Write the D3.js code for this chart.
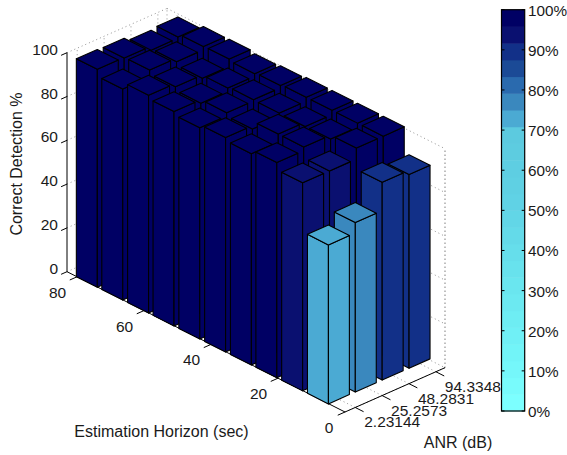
<!DOCTYPE html>
<html>

<head>
  <meta charset="utf-8">
  <title>Correct Detection</title>
  <style>
  html, body { margin: 0; padding: 0; background: #fff; }
  svg { display: block; }
  text { font-family: "Liberation Sans", Arial, sans-serif; font-size: 15.5px; fill: #1a1a1a; }
  .title { font-size: 16px; }
  .cbar { font-size: 15.3px; }
  </style>
</head>

<body>
  <svg width="567" height="455"></svg>
  <script src="https://d3js.org/d3.v7.min.js"></script>
  <script>
    // bar rows, front to back
    var horizon = [8, 15.7, 23.4, 31, 38.7, 46.4, 54.1, 61.7, 69.4, 77];
    var anrLabels = ["2.23144", "25.2573", "48.2831", "94.3348"];
    var anr1 = [72.6, 95, 98.3, 96.5, 97.9, 96.4, 97.9, 99.5, 96.4, 99.5];
    var anr2 = [77.4, 95, 100, 100, 96.4, 97.9, 96.3, 97.9, 99.6, 99.2];
    var anr3 = [90.3, 100, 98.2, 98, 98.2, 98.4, 97.8, 96.4, 98, 97.4];
    var anr4 = [88.4, 100, 100, 100, 100, 99.4, 98.9, 99.7, 99.5, 98];
    var series = [anr1, anr2, anr3, anr4];

    var horizonTicks = [0, 20, 40, 60, 80];
    var zTicks = [0, 20, 40, 60, 80, 100];
    var barTicks = [0, 10, 20, 30, 40, 50, 60, 70, 80, 90, 100];
    var bands = ["#7cffff", "#78fbfc", "#75f7fa", "#72f4f8", "#70f0f6", "#6eedf3", "#6ce9f1", "#6ae6ef",
      "#68e2ed", "#66deeb", "#64dae9", "#62d6e7", "#60d2e5", "#5fd0e3", "#5ecee2", "#5dcce0",
      "#5ccadf", "#4baad3", "#3a88be", "#2a6aae", "#1b4a96", "#123088", "#0a1070", "#000064"];

    var svg = d3.select("svg");
    var color = d3.scaleQuantize().domain([0, 100]).range(bands);

    // skewed 3d box, each data axis adds its own screen offset
    var hMax = 83, iMin = -0.38, iMax = 3.34;
    var hX = d3.scaleLinear().domain([0, hMax]).range([345, 67]);
    var hY = d3.scaleLinear().domain([0, hMax]).range([412, 271.7]);
    var iX = d3.scaleLinear().domain([iMin, iMax]).range([0, 100]);
    var iY = d3.scaleLinear().domain([iMin, iMax]).range([0, -44.3]);
    var zY = d3.scaleLinear().domain([0, 100]).range([0, -219]);

    function px(h, i) { return hX(h) + iX(i); }
    function py(h, i, z) { return hY(h) + iY(i) + zY(z); }
    function pt(h, i, z) { return [px(h, i), py(h, i, z)]; }

    var line = d3.line();

    function seg(a, b, cls) {
      return svg.append("path").attr("class", cls).attr("d", line([a, b]))
        .attr("fill", "none");
    }

    // dotted grid on the floor and the two back walls
    var grid = [];
    zTicks.forEach(z => {
      grid.push([pt(hMax, iMin, z), pt(hMax, iMax, z)]);
      grid.push([pt(hMax, iMax, z), pt(0, iMax, z)]);
    });
    horizonTicks.forEach(h => {
      grid.push([pt(h, iMin, 0), pt(h, iMax, 0)]);
      grid.push([pt(h, iMax, 0), pt(h, iMax, 100)]);
    });
    d3.range(4).forEach(i => {
      grid.push([pt(0, i, 0), pt(hMax, i, 0)]);
      grid.push([pt(hMax, i, 0), pt(hMax, i, 100)]);
    });
    grid.push([pt(hMax, iMax, 0), pt(hMax, iMax, 100)]);
    grid.push([pt(0, iMax, 0), pt(0, iMax, 100)]);
    grid.forEach(g => {
      seg(g[0], g[1], "grid").attr("stroke", "#777").attr("stroke-width", 0.8)
        .attr("stroke-dasharray", "1 3");
    });

    // axis lines and ticks, under the bars
    function axisLine(a, b) {
      seg(a, b, "axis").attr("stroke", "#000").attr("stroke-width", 1);
    }
    axisLine(pt(hMax, iMin, 0), pt(hMax, iMin, 100));
    axisLine(pt(0, iMin, 0), pt(hMax, iMin, 0));
    axisLine(pt(0, iMin, 0), pt(0, iMax, 0));
    zTicks.forEach(z => {
      axisLine(pt(hMax, iMin, z), pt(hMax, iMin - 0.22, z));
      svg.append("text").attr("x", 58).attr("y", py(hMax, iMin, z) + 2)
        .attr("text-anchor", "end").text(z);
    });
    horizonTicks.forEach(h => {
      axisLine(pt(h, iMin, 0), pt(h, iMin - 0.27, 0));
      svg.append("text").attr("x", px(h, iMin) - (h === 0 ? 16 : 19.5)).attr("y", py(h, iMin, 0) + 21)
        .attr("text-anchor", "middle").text(h);
    });
    anrLabels.forEach((label, i) => {
      axisLine(pt(0, i, 0), pt(-2.5, i, 0));
      svg.append("text").attr("x", px(0, i) + 9).attr("y", py(0, i, 0) + 20).text(label);
    });

    // bars, painted from the far corner forward
    var halfH = 3.13, halfI = 0.39;
    d3.range(horizon.length - 1, -1, -1).forEach(r => {
      d3.range(series.length - 1, -1, -1).forEach(c => {
        var z = series[c][r], h0 = horizon[r] - halfH, h1 = horizon[r] + halfH,
          i0 = c - halfI, i1 = c + halfI;
        var faces = [
          [pt(h1, i0, 0), pt(h0, i0, 0), pt(h0, i0, z), pt(h1, i0, z)],
          [pt(h0, i0, 0), pt(h0, i1, 0), pt(h0, i1, z), pt(h0, i0, z)],
          [pt(h0, i0, z), pt(h0, i1, z), pt(h1, i1, z), pt(h1, i0, z)]
        ];
        svg.append("g").selectAll("path").data(faces).join("path")
          .attr("d", d => line(d) + "Z")
          .attr("fill", color(z))
          .attr("stroke", "#000")
          .attr("stroke-width", 1.1)
          .attr("stroke-linejoin", "round");
      });
    });

    // axis titles
    svg.append("text").attr("class", "title").attr("transform", "translate(22,164) rotate(-90)")
      .attr("text-anchor", "middle").text("Correct Detection %");
    svg.append("text").attr("class", "title").attr("x", 161.5).attr("y", 437).attr("text-anchor", "middle")
      .text("Estimation Horizon (sec)");
    svg.append("text").attr("class", "title").attr("x", 458).attr("y", 448).attr("text-anchor", "middle").text("ANR (dB)");

    // colorbar
    var barX = 501.5, barW = 23.2;
    var barY = d3.scaleLinear().domain([0, 100]).range([411, 9.7]);
    svg.append("g").selectAll("rect").data(bands).join("rect")
      .attr("x", barX)
      .attr("y", (d, i) => barY((i + 1) * 100 / bands.length))
      .attr("width", barW)
      .attr("height", barY(0) - barY(100 / bands.length) + 0.5)
      .attr("fill", d => d);
    svg.append("rect").attr("x", barX).attr("y", barY(100)).attr("width", barW)
      .attr("height", barY(0) - barY(100)).attr("fill", "none").attr("stroke", "#000").attr("stroke-width", 1.2);
    barTicks.forEach(t => {
      var y = barY(t);
      seg([barX, y], [barX + 3, y], "tick").attr("stroke", "#000");
      seg([barX + barW - 3, y], [barX + barW, y], "tick").attr("stroke", "#000");
      svg.append("text").attr("class", "cbar").attr("x", 528).attr("y", y + 6).text(t + "%");
    });
  </script>

</body>

</html>
